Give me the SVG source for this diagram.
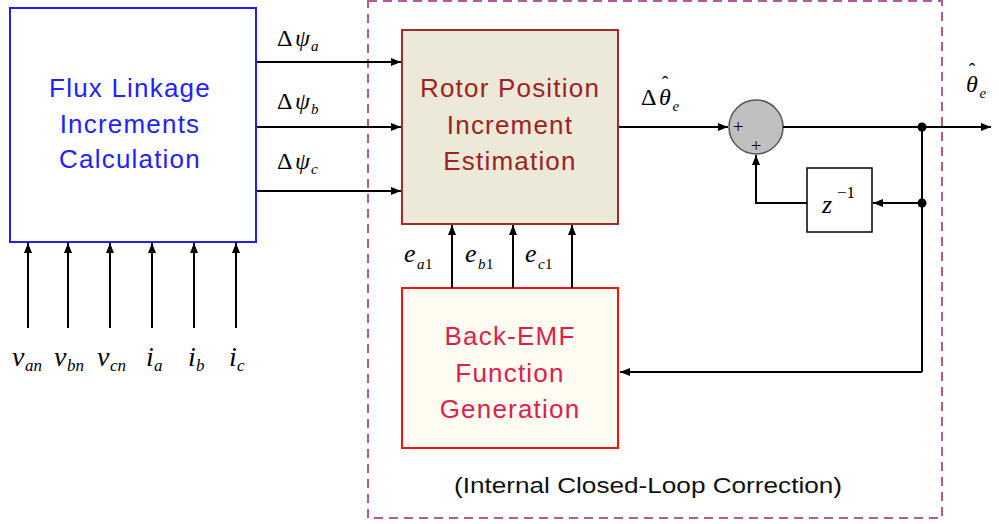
<svg xmlns="http://www.w3.org/2000/svg" width="999" height="524" viewBox="0 0 999 524">
<defs>
<marker id="ah" viewBox="0 0 10 8" refX="10" refY="4" markerWidth="10" markerHeight="8" markerUnits="userSpaceOnUse" orient="auto"><path d="M0,0 L10,4 L0,8 z" fill="#000"/></marker>
<style>
.blk{font-family:"Liberation Sans",Arial,sans-serif;font-size:26px;text-anchor:middle;letter-spacing:1.2px}
.m{font-family:"Liberation Serif","Times New Roman",serif;font-style:italic;fill:#000}
.up{font-family:"Liberation Serif","Times New Roman",serif;fill:#000}
.w{stroke:#000;stroke-width:2;fill:none}
.wa{stroke:#000;stroke-width:2;fill:none;marker-end:url(#ah)}
</style>
</defs>
<rect width="999" height="524" fill="#fff"/>
<rect x="368" y="1" width="574" height="517" fill="none" stroke="#B45A96" stroke-width="2" stroke-dasharray="9,6"/>
<g id="flux">
<rect x="10" y="8" width="246" height="234" fill="#fff" stroke="#1E1EFF" stroke-width="2"/>
<text class="blk" x="130" y="97" fill="#2222FF">Flux Linkage</text>
<text class="blk" x="130" y="133" fill="#2222FF">Increments</text>
<text class="blk" x="130" y="168" fill="#2222FF">Calculation</text>
</g>
<g id="rotor">
<rect x="402" y="30" width="216" height="194" fill="#ECE9D8" stroke="#A52A2A" stroke-width="2"/>
<text class="blk" x="510" y="97" fill="#9E2222">Rotor Position</text>
<text class="blk" x="510" y="134" fill="#9E2222">Increment</text>
<text class="blk" x="510" y="170" fill="#9E2222">Estimation</text>
</g>
<g id="backemf">
<rect x="402" y="288" width="216" height="160" fill="#FFFCF2" stroke="#FF1010" stroke-width="2"/>
<text class="blk" x="510" y="345" fill="#E0204A">Back-EMF</text>
<text class="blk" x="510" y="382" fill="#E0204A">Function</text>
<text class="blk" x="510" y="418" fill="#E0204A">Generation</text>
</g>
<g id="sum">
<circle cx="756" cy="127" r="27" fill="#C0C0C0" stroke="#555" stroke-width="1.5"/>
<text class="up" x="738" y="133" font-size="19" text-anchor="middle">+</text>
<text class="up" x="756" y="152" font-size="19" text-anchor="middle">+</text>
</g>
<g id="delay">
<rect x="807" y="168" width="65" height="64" fill="#fff" stroke="#000" stroke-width="1.5"/>
<text class="m" x="822" y="213" font-size="26">z</text>
<text class="up" x="837" y="198" font-size="17">−1</text>
</g>
<g id="connectors">
<line class="wa" x1="28" y1="328" x2="28" y2="243"/>
<line class="wa" x1="68" y1="328" x2="68" y2="243"/>
<line class="wa" x1="110" y1="328" x2="110" y2="243"/>
<line class="wa" x1="152" y1="328" x2="152" y2="243"/>
<line class="wa" x1="194" y1="328" x2="194" y2="243"/>
<line class="wa" x1="236" y1="328" x2="236" y2="243"/>
<line class="wa" x1="257" y1="62" x2="401" y2="62"/>
<line class="wa" x1="257" y1="127" x2="401" y2="127"/>
<line class="wa" x1="257" y1="191" x2="401" y2="191"/>
<line class="wa" x1="452" y1="288" x2="452" y2="225"/>
<line class="wa" x1="513" y1="288" x2="513" y2="225"/>
<line class="wa" x1="572" y1="288" x2="572" y2="225"/>
<line class="wa" x1="619" y1="127" x2="728" y2="127"/>
<line class="wa" x1="783" y1="127" x2="991" y2="127"/>
<polyline class="w" points="922,127 922,372"/>
<line class="wa" x1="922" y1="372" x2="620" y2="372"/>
<line class="wa" x1="922" y1="203" x2="873" y2="203"/>
<polyline class="wa" points="807,203 756,203 756,155"/>
<circle cx="922" cy="127" r="4.5" fill="#000"/>
<circle cx="922" cy="203" r="4.5" fill="#000"/>
</g>
<g id="labels">
<text class="up" x="277" y="46" font-size="24">Δ</text><text class="m" x="295" y="46" font-size="24">ψ</text><text class="m" x="311" y="51" font-size="15">a</text>
<text class="up" x="277" y="109" font-size="24">Δ</text><text class="m" x="295" y="109" font-size="24">ψ</text><text class="m" x="311" y="114" font-size="15">b</text>
<text class="up" x="277" y="169" font-size="24">Δ</text><text class="m" x="295" y="169" font-size="24">ψ</text><text class="m" x="311" y="174" font-size="15">c</text>
<text class="up" x="641" y="105" font-size="24">Δ</text>
<text class="m" x="659" y="105" font-size="24">θ<tspan class="up" font-style="normal" font-size="20" dx="-9" dy="-14">ˆ</tspan><tspan font-size="15" dx="4" dy="20">e</tspan></text>
<text class="m" x="966" y="92" font-size="24">θ<tspan class="up" font-style="normal" font-size="20" dx="-9" dy="-14">ˆ</tspan><tspan font-size="15" dx="4" dy="20">e</tspan></text>
<text class="m" x="404" y="262" font-size="26">e</text><text class="m" x="417" y="269" font-size="15">a</text><text class="up" x="425" y="269" font-size="15">1</text>
<text class="m" x="465" y="262" font-size="26">e</text><text class="m" x="478" y="269" font-size="15">b</text><text class="up" x="486" y="269" font-size="15">1</text>
<text class="m" x="525" y="262" font-size="26">e</text><text class="m" x="538" y="269" font-size="15">c</text><text class="up" x="545" y="269" font-size="15">1</text>
<text class="m" x="12" y="366" font-size="28">v</text><text class="m" x="25" y="371" font-size="17">an</text>
<text class="m" x="54" y="366" font-size="28">v</text><text class="m" x="67" y="371" font-size="17">bn</text>
<text class="m" x="97" y="366" font-size="28">v</text><text class="m" x="110" y="371" font-size="17">cn</text>
<text class="m" x="146" y="366" font-size="28">i</text><text class="m" x="154" y="371" font-size="17">a</text>
<text class="m" x="188" y="366" font-size="28">i</text><text class="m" x="196" y="371" font-size="17">b</text>
<text class="m" x="229" y="366" font-size="28">i</text><text class="m" x="237" y="371" font-size="17">c</text>
<text x="648" y="493" font-family="'Liberation Sans',Arial,sans-serif" font-size="22" text-anchor="middle" textLength="388" lengthAdjust="spacingAndGlyphs" fill="#111">(Internal Closed-Loop Correction)</text>
</g>
</svg>
